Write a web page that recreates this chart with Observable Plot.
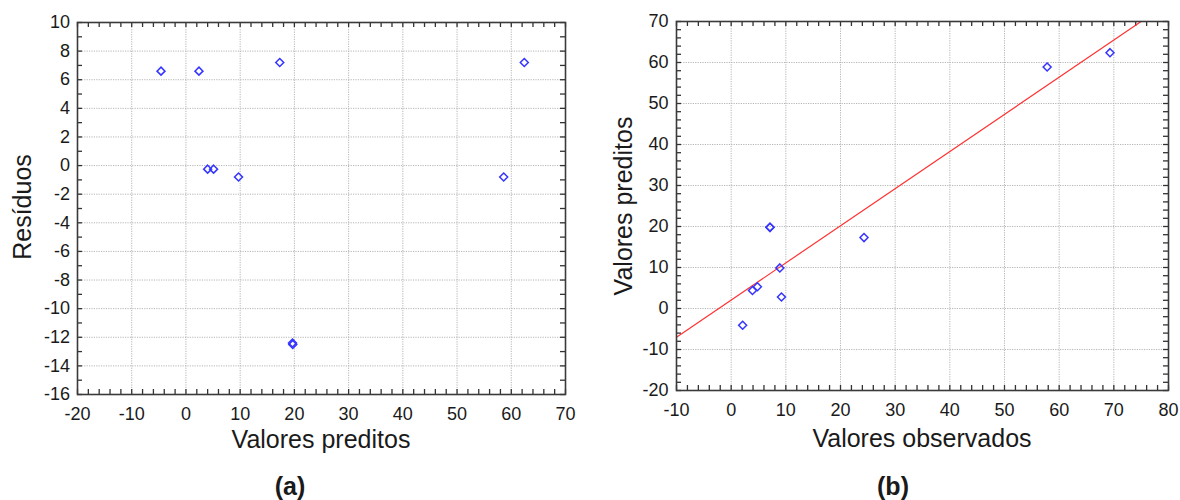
<!DOCTYPE html>
<html>
<head>
<meta charset="utf-8">
<script src="https://cdn.jsdelivr.net/npm/d3@7"></script>
<script src="https://cdn.jsdelivr.net/npm/@observablehq/plot@0.6"></script>
<style>
  html, body { margin: 0; padding: 0; background: #fff; }
  #wrap { position: relative; width: 1180px; height: 500px; overflow: hidden; font-family: "Liberation Sans", Arial, sans-serif; }
  .panel { position: absolute; top: 0; }
  #overlay { position: absolute; left: 0; top: 0; pointer-events: none; }
</style>
</head>
<body>
<div id="wrap">
  <div id="pa" class="panel" style="left:0px"></div>
  <div id="pb" class="panel" style="left:590px"></div>
  <svg id="overlay" width="1180" height="500" font-family="Liberation Sans, Arial, sans-serif" fill="#1a1a1a">
    <text x="321" y="448" font-size="25" text-anchor="middle">Valores preditos</text>
    <text transform="translate(31,207) rotate(-90)" font-size="25" text-anchor="middle">Resíduos</text>
    <text x="922" y="447" font-size="25" text-anchor="middle">Valores observados</text>
    <text transform="translate(632,206) rotate(-90)" font-size="25" text-anchor="middle">Valores preditos</text>
    <text x="290" y="495" font-size="25" font-weight="bold" text-anchor="middle">(a)</text>
    <text x="893" y="495" font-size="25" font-weight="bold" text-anchor="middle">(b)</text>
  </svg>
</div>
<script>
// ---- Panel (a): residuals vs predicted ----
const predA = [-4.6, 2.4, 17.3, 62.4, 4.0, 5.1, 9.7, 58.6, 19.65, 19.7];
const residA = [6.6, 6.6, 7.2, 7.2, -0.25, -0.25, -0.8, -0.8, -12.4, -12.5];
const xTicksA = [-20, -10, 0, 10, 20, 30, 40, 50, 60, 70];
const yTicksA = [10, 8, 6, 4, 2, 0, -2, -4, -6, -8, -10, -12, -14, -16];
const xMinorA = d3.range(-20, 70.1, 2);
const yMinorA = d3.range(-16, 10.1, 1);

// ---- Panel (b): predicted vs observed ----
const obsB = [2.1, 7.1, 7.1, 8.9, 3.9, 4.8, 9.2, 24.3, 57.8, 69.3];
const predB = [-4.1, 19.8, 19.8, 9.9, 4.4, 5.3, 2.8, 17.3, 58.9, 62.4];
const xTicksB = [-10, 0, 10, 20, 30, 40, 50, 60, 70, 80];
const yTicksB = [-20, -10, 0, 10, 20, 30, 40, 50, 60, 70];
const xMinorB = d3.range(-10, 80.1, 2);
const yMinorB = d3.range(-20, 70.1, 2);
const fitIntercept = 2.06;
const fitSlope = 0.906;

const tableA = predA.map((p, i) => ({pred: p, resid: residA[i]}));
const tableB = obsB.map((o, i) => ({obs: o, pred: predB[i]}));
const fitX = [-10, 80];
const fitLine = fitX.map(x => ({x, y: fitIntercept + fitSlope * x}));

const gridStyle = {stroke: "#b5b5b5", strokeOpacity: 1, strokeDasharray: "1.2,1.2", strokeWidth: 1};
const dotStyle = {symbol: "diamond2", r: 3.6, stroke: "#3535ff", strokeWidth: 1.5, fill: "none"};
const tickStyle = {stroke: "#333", strokeWidth: 1.3};
const fmt = d => String(d);

function panel({width, height, mL, mR, mT, mB, xDom, yDom, xTicks, yTicks, xMinor, yMinor, extra, yPad}) {
  const fw = width - mL - mR, fh = height - mT - mB, L = 5;
  return Plot.plot({
    width, height,
    marginLeft: mL, marginRight: mR, marginTop: mT, marginBottom: mB,
    x: {domain: xDom}, y: {domain: yDom},
    style: {fontFamily: "Liberation Sans, Arial, sans-serif", background: "transparent", color: "#1a1a1a"},
    marks: [
      Plot.gridX(xTicks, gridStyle),
      Plot.gridY(yTicks, gridStyle),
      Plot.axisX(xTicks, {anchor: "bottom", tickSize: 0, tickPadding: 13, fontSize: 18, label: null, tickFormat: fmt}),
      Plot.axisY(yTicks, {anchor: "left", tickSize: 0, tickPadding: yPad, fontSize: 18, label: null, tickFormat: fmt}),
      Plot.tickX(xMinor, {x: d => d, insetTop: fh - L, ...tickStyle}),
      Plot.tickX(xMinor, {x: d => d, insetBottom: fh - L, ...tickStyle}),
      Plot.tickY(yMinor, {y: d => d, insetRight: fw - L, ...tickStyle}),
      Plot.tickY(yMinor, {y: d => d, insetLeft: fw - L, ...tickStyle}),
      ...extra,
      Plot.frame({stroke: "#3a3a3a", strokeWidth: 1.6})
    ]
  });
}

const chartA = panel({
  width: 590, height: 470, mL: 77, mR: 25, mT: 22, mB: 76,
  xDom: [-20, 70], yDom: [-16, 10],
  xTicks: xTicksA, yTicks: yTicksA, xMinor: xMinorA, yMinor: yMinorA, yPad: 7.5,
  extra: [Plot.dot(tableA, {x: "pred", y: "resid", ...dotStyle})]
});

const chartB = panel({
  width: 590, height: 470, mL: 86, mR: 12, mT: 21, mB: 80,
  xDom: [-10, 80], yDom: [-20, 70],
  xTicks: xTicksB, yTicks: yTicksB, xMinor: xMinorB, yMinor: yMinorB, yPad: 8,
  extra: [
    Plot.line(fitLine, {x: "x", y: "y", stroke: "#ff3333", strokeWidth: 1.2, clip: true}),
    Plot.dot(tableB, {x: "obs", y: "pred", ...dotStyle})
  ]
});

document.getElementById("pa").append(chartA);
document.getElementById("pb").append(chartB);
</script>
</body>
</html>
